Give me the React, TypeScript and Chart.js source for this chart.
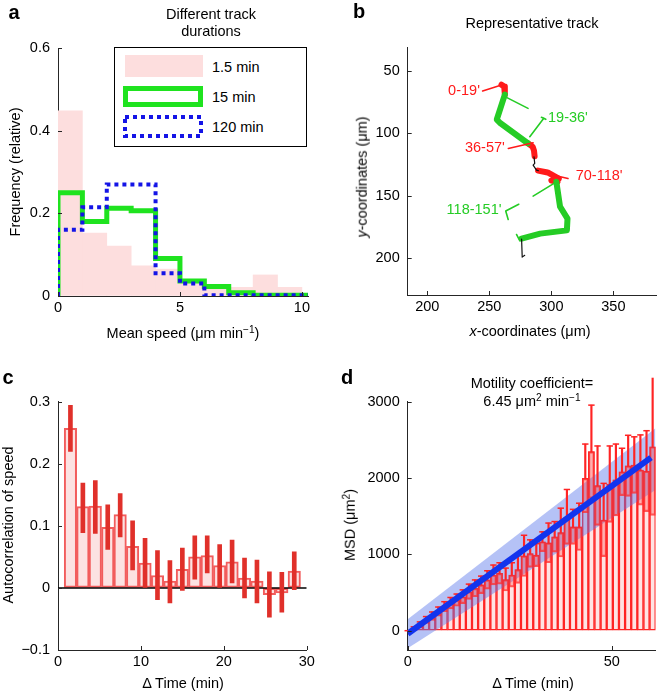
import React, { useEffect, useRef } from "react";
import { Chart, registerables } from "chart.js";
Chart.register(...registerables);

const FONT = "'Liberation Sans', Arial, Helvetica, sans-serif";
const FS = 14.5;
const AX = "#262626";
const CW = 700;
const CH = 692;
const YW = 44;

// ---------- Panel a : mean speed histograms ----------
const speedBinCenters = [0.5, 1.5, 2.5, 3.5, 4.5, 5.5, 6.5, 7.5, 8.5, 9.5];
const freq1_5min = [0.448, 0.152, 0.121, 0.073, 0.065, 0.039, 0.021, 0.021, 0.051, 0.021];
const stepEdges = [0, 1, 2, 3, 4, 5, 6, 7, 8, 10.25];
const freq15min = [0.25, 0.18, 0.212, 0.206, 0.091, 0.036, 0.023, 0.008, 0.002];
const freq120min = [0.16, 0.215, 0.27, 0.27, 0.055, 0.03, 0.002, 0.002, 0.002];
const aXTicks = [0, 5, 10];
const aYTicks = [0, 0.2, 0.4, 0.6];

// ---------- Panel b : representative track (µm) ----------
const trackRed0_19 = [[259.8, 61], [262, 62.5], [262.5, 69]];
const trackGreen19_36 = [[262.5, 69], [256, 89], [259, 92], [281, 108]];
const trackRed36_57 = [[281, 108], [285, 111], [286, 114], [286.5, 118.5]];
const trackBlack57_70 = [[286, 119], [286.6, 124.2], [285.3, 125.6], [288, 129.6], [289.5, 130]];
const trackRed70_118 = [[289.3, 130], [297, 131.5], [306, 136.5], [300, 138], [305, 139]];
const trackGreen118_151 = [[304, 139], [307, 159], [313, 168.5], [312.5, 178], [291, 180.6], [276, 184.6]];
const trackBlackEnd = [[276, 185], [276.5, 199.5], [278.5, 198]];
const arrowRed0_19 = [[244.6, 66.1], [259.8, 61.3]];
const arrowRed36_57 = [[265.3, 112.2], [285.3, 107.7]];
const arrowRed70_118 = [[313.4, 136.3], [296, 132.3]];
const arrowGreen19_36a = [[262.6, 70.6], [281.2, 80]];
const arrowGreen19_36b = [[282.6, 102.8], [293.9, 88]];
const hookGreen19_36 = [[292, 87.2], [295.5, 88.8]];
const arrowGreen118_151a = [[285.3, 150.5], [304.1, 139]];
const arrowGreen118_151b = [[273.7, 157], [263.2, 162.4], [265.2, 169.3]];
const tickGreenEnd = [[271.9, 181.3], [274.6, 186.5]];
const bLabelText = ["0-19'", "19-36'", "36-57'", "70-118'", "118-151'"];
const bLabelX = [242.4, 297.3, 262.5, 319.6, 259.8];
const bLabelY = [66, 88, 111.5, 134.5, 161.4];
const bLabelRed = [true, false, true, true, false];
const bLabelRight = [true, false, true, false, true];
const bXTicks = [200, 250, 300, 350];
const bYTicks = [50, 100, 150, 200];

// ---------- Panel c : autocorrelation of speed ----------
const lagTimes = [1.5, 3, 4.5, 6, 7.5, 9, 10.5, 12, 13.5, 15, 16.5, 18, 19.5, 21, 22.5, 24, 25.5, 27, 28.5];
const autoCorr = [0.257, 0.131, 0.132, 0.0975, 0.118, 0.067, 0.04, 0.02, 0.011, 0.03, 0.05, 0.052, 0.036, 0.042, 0.016, 0.011, -0.011, -0.008, 0.027];
const autoLo = [0.22, 0.089, 0.088, 0.062, 0.082, 0.029, 0.0, -0.019, -0.024, -0.004, 0.014, 0.024, 0.0, 0.008, -0.016, -0.024, -0.047, -0.039, -0.003];
const autoHi = [0.294, 0.169, 0.173, 0.134, 0.152, 0.108, 0.08, 0.06, 0.044, 0.064, 0.084, 0.084, 0.07, 0.077, 0.048, 0.045, 0.026, 0.025, 0.058];
const cXTicks = [0, 10, 20, 30];
const cYTicks = [-0.1, 0, 0.1, 0.2, 0.3];

// ---------- Panel d : mean squared displacement ----------
const msdTimes = [0, 1.5, 3, 4.5, 6, 7.5, 9, 10.5, 12, 13.5, 15, 16.5, 18, 19.5, 21, 22.5, 24, 25.5, 27, 28.5, 30, 31.5, 33, 34.5, 36, 37.5, 39, 40.5, 42, 43.5, 45, 46.5, 48, 49.5, 51, 52.5, 54, 55.5, 57, 58.5, 60];
const msdMean = [0, 26, 75, 140, 190, 250, 315, 360, 400, 445, 510, 555, 600, 665, 730, 750, 670, 730, 800, 980, 1010, 990, 1165, 1150, 1230, 1285, 1490, 1360, 1360, 1995, 2345, 1900, 1450, 1920, 1975, 2080, 2160, 2170, 2105, 2090, 2410];
const msdErr = [0, 25, 40, 45, 55, 60, 65, 75, 80, 90, 100, 110, 115, 120, 130, 140, 150, 160, 180, 270, 180, 150, 130, 260, 200, 320, 360, 230, 310, 450, 610, 520, 480, 500, 470, 310, 400, 370, 460, 530, 900];
const fitTimes = [0, 59.6];
const fitMsd = [-40, 2268];
const bandTimes = [0, 60.7];
const bandUpper = [149, 2653];
const bandLower = [-231, 1844];
const dXTicks = [0, 50];
const dYTicks = [0, 1000, 2000, 3000];

type Area = { l: number; t: number; r: number; b: number };
const areaA: Area = { l: 58, t: 48, r: 308, b: 296 };
const areaB: Area = { l: 407.7, t: 47.7, r: 656.7, b: 295 };
const areaC: Area = { l: 58, t: 401.7, r: 306.7, b: 650 };
const areaD: Area = { l: 407.7, t: 401.7, r: 655.5, b: 650 };

const RED_B = "#FF1A1A";
const GREEN_B = "#25CC25";

const fmtNum = (v: any) => String(v).replace("-", "\u2212");

function scaleX(area: Area, min: number, max: number, ticks: number[]) {
  return {
    type: "linear",
    position: "bottom",
    min,
    max,
    offset: false,
    grid: { display: true, drawOnChartArea: false, drawTicks: false, offset: false },
    border: { display: true, color: AX, width: 1 },
    ticks: { padding: 3, color: "#000", font: { family: FONT, size: FS }, maxRotation: 0, autoSkip: false, callback: fmtNum },
    afterBuildTicks: (s: any) => {
      s.ticks = ticks.map((v) => ({ value: v }));
    },
    afterFit: (s: any) => {
      s.height = CH - area.b;
    },
  };
}

function scaleY(min: number, max: number, ticks: number[], reverse = false) {
  return {
    type: "linear",
    position: "left",
    min,
    max,
    reverse,
    grid: { display: true, drawOnChartArea: false, drawTicks: false },
    border: { display: true, color: AX, width: 1 },
    ticks: { padding: 8, color: "#000", font: { family: FONT, size: FS }, autoSkip: false, callback: fmtNum },
    afterBuildTicks: (s: any) => {
      s.ticks = ticks.map((v) => ({ value: v }));
    },
    afterFit: (s: any) => {
      s.width = YW;
    },
  };
}

const inTicks = {
  id: "inTicks",
  afterDraw(chart: any) {
    const { ctx, chartArea: ca, scales } = chart;
    const len = 4;
    ctx.save();
    ctx.strokeStyle = AX;
    ctx.lineWidth = 1;
    ctx.beginPath();
    for (const t of scales.x.ticks) {
      const p = Math.round(scales.x.getPixelForValue(t.value)) + 0.5;
      ctx.moveTo(p, ca.bottom);
      ctx.lineTo(p, ca.bottom - len);
    }
    for (const t of scales.y.ticks) {
      const p = Math.round(scales.y.getPixelForValue(t.value)) + 0.5;
      ctx.moveTo(ca.left, p);
      ctx.lineTo(ca.left + len, p);
    }
    ctx.stroke();
    ctx.restore();
  },
};

const bTextPlugin = {
  id: "bText",
  afterDatasetsDraw(chart: any) {
    const { ctx, scales } = chart;
    ctx.save();
    ctx.font = `${FS}px ${FONT}`;
    ctx.textBaseline = "middle";
    bLabelText.forEach((txt, i) => {
      ctx.fillStyle = bLabelRed[i] ? RED_B : GREEN_B;
      ctx.textAlign = bLabelRight[i] ? "right" : "left";
      ctx.fillText(txt, scales.x.getPixelForValue(bLabelX[i]), scales.y.getPixelForValue(bLabelY[i]));
    });
    ctx.restore();
  },
};

function baseOptions(area: Area, xs: any, ys: any) {
  return {
    responsive: false,
    animation: false,
    devicePixelRatio: 1,
    events: [],
    layout: { padding: { left: area.l - YW, top: area.t, right: CW - area.r, bottom: 0 } },
    plugins: { legend: { display: false }, tooltip: { enabled: false } },
    scales: { x: xs, y: ys },
  };
}

function stepPoints(edges: number[], vals: number[]) {
  const pts = [{ x: edges[0], y: 0 }];
  vals.forEach((v, i) => pts.push({ x: edges[i], y: v }));
  pts.push({ x: edges[edges.length - 1], y: vals[vals.length - 1] });
  return pts;
}

const toPts = (arr: number[][]) => arr.map(([x, y]) => ({ x, y }));

function makeA() {
  return {
    type: "bar",
    data: {
      datasets: [
        {
          type: "bar",
          data: speedBinCenters.map((x, i) => ({ x, y: freq1_5min[i] })),
          backgroundColor: "#FDDEDE",
          borderWidth: 0,
          grouped: false,
          barPercentage: 1,
          categoryPercentage: 1,
          order: 3,
        },
        {
          type: "line",
          data: stepPoints(stepEdges, freq15min),
          stepped: "before",
          borderColor: "#1FE31F",
          borderWidth: 5,
          pointRadius: 0,
          fill: false,
          order: 2,
        },
        {
          type: "line",
          data: stepPoints(stepEdges, freq120min),
          stepped: "before",
          borderColor: "#1414E6",
          borderWidth: 4,
          borderDash: [4, 4],
          pointRadius: 0,
          fill: false,
          order: 1,
        },
      ],
    },
    options: baseOptions(areaA, scaleX(areaA, 0, 10.25, aXTicks), scaleY(0, 0.6, aYTicks)),
    plugins: [inTicks],
  };
}

function seg(arr: number[][], color: string, width: number) {
  return {
    data: toPts(arr),
    showLine: true,
    borderColor: color,
    borderWidth: width,
    pointRadius: 0,
    borderCapStyle: "round",
    borderJoinStyle: "round",
    fill: false,
  };
}

function makeB() {
  return {
    type: "scatter",
    data: {
      datasets: [
        seg(arrowRed0_19, RED_B, 1.6),
        seg(arrowRed36_57, RED_B, 1.6),
        seg(arrowRed70_118, RED_B, 1.6),
        seg(arrowGreen19_36a, GREEN_B, 1.6),
        seg(arrowGreen19_36b, GREEN_B, 1.6),
        seg(hookGreen19_36, GREEN_B, 1.6),
        seg(arrowGreen118_151a, GREEN_B, 1.6),
        seg(arrowGreen118_151b, GREEN_B, 1.6),
        seg(tickGreenEnd, GREEN_B, 1.6),
        seg(trackBlack57_70, "#111", 1.2),
        seg(trackBlackEnd, "#111", 1.2),
        seg(trackGreen19_36, GREEN_B, 6),
        seg(trackGreen118_151, GREEN_B, 6),
        seg(trackRed0_19, RED_B, 6),
        seg(trackRed36_57, RED_B, 6),
        seg(trackRed70_118, RED_B, 6),
      ],
    },
    options: baseOptions(areaB, scaleX(areaB, 184.2, 384.9, bXTicks), scaleY(31.3, 229.9, bYTicks, true)),
    plugins: [inTicks, bTextPlugin],
  };
}

function makeC() {
  return {
    type: "bar",
    data: {
      datasets: [
        {
          type: "bar",
          data: lagTimes.map((x, i) => ({ x, y: autoCorr[i] })),
          backgroundColor: "#FCE2E2",
          borderColor: "#F25C5C",
          borderWidth: 2,
          borderSkipped: false,
          grouped: false,
          barPercentage: 1,
          categoryPercentage: 1,
          order: 3,
        },
        {
          type: "line",
          data: [{ x: cXTicks[0], y: 0 }, { x: cXTicks[cXTicks.length - 1], y: 0 }],
          borderColor: "#000",
          borderWidth: 1.5,
          pointRadius: 0,
          order: 2,
        },
        {
          type: "bar",
          data: lagTimes.map((x, i) => ({ x, y: [autoLo[i], autoHi[i]] })),
          backgroundColor: "#E0302A",
          borderWidth: 0,
          barThickness: 4,
          grouped: false,
          order: 1,
        },
      ],
    },
    options: baseOptions(areaC, scaleX(areaC, 0, 30, cXTicks), scaleY(-0.1, 0.3, cYTicks)),
    plugins: [inTicks],
  };
}

function makeD() {
  return {
    type: "bar",
    data: {
      datasets: [
        {
          type: "bar",
          data: msdTimes.map((x, i) => ({ x, y: msdMean[i] })),
          backgroundColor: "#FFE3E3",
          borderColor: "#FF2424",
          borderWidth: 1.5,
          borderSkipped: false,
          grouped: false,
          barPercentage: 1,
          categoryPercentage: 1,
          order: 6,
        },
        {
          type: "line",
          data: bandTimes.map((x, i) => ({ x, y: bandUpper[i] })),
          borderWidth: 0,
          pointRadius: 0,
          fill: "+1",
          backgroundColor: "rgba(90,120,235,0.45)",
          order: 5,
        },
        {
          type: "line",
          data: bandTimes.map((x, i) => ({ x, y: bandLower[i] })),
          borderWidth: 0,
          pointRadius: 0,
          fill: false,
          order: 5,
        },
        {
          type: "bar",
          data: msdTimes.map((x, i) => ({ x, y: [msdMean[i] - msdErr[i], msdMean[i]] })),
          backgroundColor: "rgba(255,70,70,0.33)",
          borderColor: "rgba(255,40,40,0.75)",
          borderWidth: 1.5,
          borderSkipped: false,
          grouped: false,
          barPercentage: 1,
          categoryPercentage: 1,
          order: 4,
        },
        {
          type: "bar",
          data: msdTimes.map((x, i) => ({ x, y: [msdMean[i], msdMean[i] + msdErr[i]] })),
          backgroundColor: "#FF2424",
          borderWidth: 0,
          barThickness: 1.5,
          grouped: false,
          clip: false,
          order: 3,
        },
        {
          type: "line",
          data: msdTimes.map((x, i) => ({ x, y: msdMean[i] + msdErr[i] })),
          showLine: false,
          pointStyle: "line",
          pointRadius: 3.2,
          pointBorderWidth: 1.5,
          pointBorderColor: "#FF2424",
          clip: false,
          order: 3,
        },
        {
          type: "line",
          data: fitTimes.map((x, i) => ({ x, y: fitMsd[i] })),
          borderColor: "#1234EE",
          borderWidth: 6,
          pointRadius: 0,
          fill: false,
          order: 1,
        },
      ],
    },
    options: baseOptions(areaD, scaleX(areaD, 0, 60.7, dXTicks), scaleY(-253, 3000, dYTicks)),
    plugins: [inTicks],
  };
}

function ChartCanvas({ make }: { make: () => any }) {
  const ref = useRef<HTMLCanvasElement>(null);
  useEffect(() => {
    const c = new Chart(ref.current as HTMLCanvasElement, make() as any);
    return () => c.destroy();
  }, []);
  return <canvas ref={ref} width={CW} height={CH} style={{ position: "absolute", left: 0, top: 0, width: CW, height: CH }} />;
}

function T(props: { x: number; y: number; children: any; rot?: boolean; size?: number; bold?: boolean; left?: boolean; color?: string }) {
  const { x, y, children, rot, size, bold, left, color } = props;
  return (
    <div
      style={{
        position: "absolute",
        left: x,
        top: y,
        transform: left ? "translate(0,-50%)" : `translate(-50%,-50%)${rot ? " rotate(-90deg)" : ""}`,
        whiteSpace: "nowrap",
        fontFamily: FONT,
        fontSize: size ?? FS,
        fontWeight: bold ? 700 : 400,
        lineHeight: 1,
        color: color ?? "#000",
      }}
    >
      {children}
    </div>
  );
}

const Sup = ({ children }: { children: any }) => (
  <sup style={{ fontSize: "0.7em", verticalAlign: "0.5em", lineHeight: 0 }}>{children}</sup>
);

export default function App() {
  return (
    <div style={{ position: "absolute", left: 0, top: 0, width: 657, height: 692, overflow: "hidden", background: "#fff" }}>
      <ChartCanvas make={makeA} />
      <ChartCanvas make={makeB} />
      <ChartCanvas make={makeC} />
      <ChartCanvas make={makeD} />

      {/* panel letters */}
      <T x={14} y={12} size={20} bold>a</T>
      <T x={359} y={11} size={20} bold>b</T>
      <T x={8} y={377} size={20} bold>c</T>
      <T x={347} y={377} size={20} bold>d</T>

      {/* panel a */}
      <T x={211} y={14}>Different track</T>
      <T x={211} y={31}>durations</T>
      <T x={15} y={172} rot>Frequency (relative)</T>
      <T x={183} y={333}>
        Mean speed (μm min<Sup>−1</Sup>)
      </T>
      <svg style={{ position: "absolute", left: 114, top: 47 }} width={194} height={101}>
        <rect x={0.5} y={0.5} width={192} height={99} fill="#fff" stroke="#000" strokeWidth={1} />
        <rect x={11} y={8} width={78} height={22} fill="#FDDEDE" />
        <rect x={11.5} y={41.5} width={75} height={16} fill="none" stroke="#1FE31F" strokeWidth={5} />
        <rect x={11} y={70} width={76} height={19} fill="none" stroke="#1414E6" strokeWidth={4} strokeDasharray="4 4" />
      </svg>
      <T x={212} y={67} left>1.5 min</T>
      <T x={212} y={97} left>15 min</T>
      <T x={212} y={127} left>120 min</T>

      {/* panel b */}
      <T x={532} y={23}>Representative track</T>
      <T x={362} y={177} rot>
        <i>y</i>-coordinates (μm)
      </T>
      <T x={530} y={331}>
        <i>x</i>-coordinates (μm)
      </T>

      {/* panel c */}
      <T x={8} y={525} rot>Autocorrelation of speed</T>
      <T x={183} y={683}>Δ Time (min)</T>

      {/* panel d */}
      <T x={532} y={383}>Motility coefficient=</T>
      <T x={532} y={401}>
        6.45 μm<Sup>2</Sup> min<Sup>−1</Sup>
      </T>
      <T x={350} y={525} rot>
        MSD (μm<Sup>2</Sup>)
      </T>
      <T x={533} y={683}>Δ Time (min)</T>
    </div>
  );
}
